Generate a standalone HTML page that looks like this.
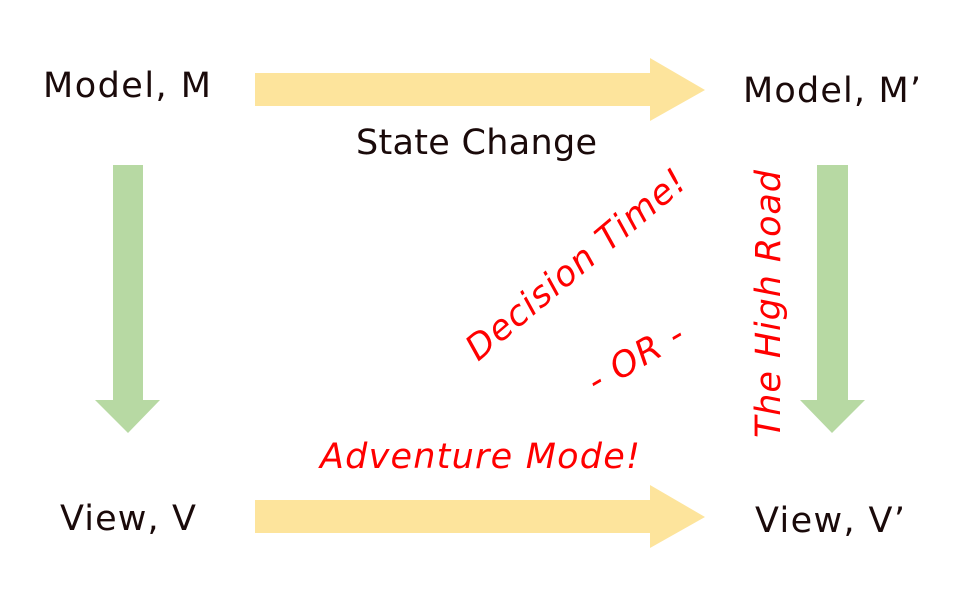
<!DOCTYPE html>
<html><head><style>
html,body{margin:0;padding:0;background:#fff;}
svg{display:block;}
text{font-family:"DejaVu Sans","Liberation Sans",sans-serif;}
</style></head><body>
<svg width="960" height="600" viewBox="0 0 960 600" xmlns="http://www.w3.org/2000/svg">
<rect width="960" height="600" fill="#fff"/>
<polygon points="255,73 650,73 650,58 705,90 650,121 650,106 255,106" fill="#fde49c"/>
<polygon points="255,500 650,500 650,485 705,517 650,548 650,533 255,533" fill="#fde49c"/>
<polygon points="113,165 143,165 143,400 160,400 128,433 95,400 113,400" fill="#b7d9a3"/>
<polygon points="817,165 848,165 848,400 865,400 832,433 800,400 817,400" fill="#b7d9a3"/>
<g fill="#1a0a0a" font-size="35">
<text x="43" y="97" textLength="168">Model, M</text>
<text x="743" y="102" textLength="178">Model, M’</text>
<text x="356" y="154" textLength="241">State Change</text>
<text x="60" y="530" textLength="136">View, V</text>
<text x="755" y="532" textLength="150">View, V’</text>
</g>
<g fill="#ff0000" font-size="35" font-style="italic">
<text x="320" y="468" textLength="320">Adventure Mode!</text>
<text transform="translate(478,362) rotate(-40)" textLength="275">Decision Time!</text>
<text transform="translate(596,394) rotate(-30)" textLength="105">- OR -</text>
<text transform="translate(780,438) rotate(-90)" textLength="268">The High Road</text>
</g>
</svg>
</body></html>
